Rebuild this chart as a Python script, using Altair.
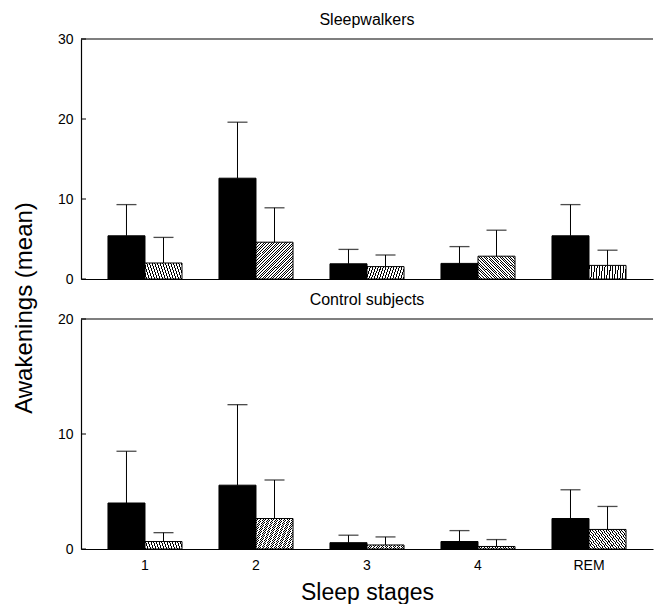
import altair as alt
import pandas as pd

# ---------------- data ----------------
stages = ["1", "2", "3", "4", "REM"]
series_names = ["black", "hatched"]

# Sleepwalkers
sw_black_mean = [5.4, 12.6, 1.9, 1.95, 5.4]
sw_black_sd = [3.9, 7.0, 1.8, 2.1, 3.9]
sw_hatched_mean = [2.0, 4.6, 1.55, 2.85, 1.7]
sw_hatched_sd = [3.2, 4.3, 1.45, 3.25, 1.9]

# Control subjects
ct_black_mean = [4.0, 5.55, 0.55, 0.65, 2.65]
ct_black_sd = [4.5, 7.0, 0.65, 0.95, 2.5]
ct_hatched_mean = [0.65, 2.65, 0.35, 0.22, 1.7]
ct_hatched_sd = [0.77, 3.35, 0.7, 0.6, 2.0]

sw_ticks = [0, 10, 20, 30]
ct_ticks = [0, 10, 20]

FONT = "Liberation Sans"
W = 572


def make_df(bm, bs, hm, hs):
    rows = []
    for i, s in enumerate(stages):
        rows.append({"stage": s, "series": "black", "mean": bm[i], "sd": bs[i]})
        rows.append({"stage": s, "series": "hatched", "mean": hm[i], "sd": hs[i]})
    return pd.DataFrame(rows)


# diagonal hatch approximated by a striped linear gradient
N = 28
stops = []
for k in range(N):
    s = k / N
    w = 0.38 / N
    stops += [
        alt.GradientStop(offset=s, color="white"),
        alt.GradientStop(offset=s, color="black"),
        alt.GradientStop(offset=s + w, color="black"),
        alt.GradientStop(offset=s + w, color="white"),
    ]
stops.append(alt.GradientStop(offset=1, color="white"))
hatch = alt.LinearGradient(gradient="linear", stops=stops, x1=0, y1=0, x2=1, y2=1)


def panel(df, ymax, ticks, height, title, bottom):
    base = alt.Chart(df).transform_calculate(upper="datum.mean + datum.sd")
    if bottom:
        xaxis = alt.Axis(title="Sleep stages", labelAngle=0, ticks=False, domain=True,
                         domainColor="black", domainWidth=1.2, labelPadding=9,
                         labelFontSize=14, titleFontSize=23, titleFontWeight="normal",
                         titlePadding=9, labelColor="black", titleColor="black")
    else:
        xaxis = alt.Axis(title=None, labels=False, ticks=False, domain=True,
                         domainColor="black", domainWidth=1.2)
    x = alt.X("stage:N", sort=stages,
              scale=alt.Scale(domain=stages, paddingInner=0.333, paddingOuter=0.243),
              axis=xaxis)
    xo = alt.XOffset("series:N", sort=series_names,
                     scale=alt.Scale(domain=series_names, paddingInner=0, paddingOuter=0))
    yscale = alt.Scale(domain=[0, ymax], nice=False, zero=True)
    y = alt.Y("mean:Q", scale=yscale,
              axis=alt.Axis(values=ticks, title=None, grid=False, ticks=False,
                            labelPadding=8, domainColor="black", domainWidth=1.2,
                            labelFontSize=14, labelColor="black"))

    black = base.transform_filter("datum.series == 'black'").mark_bar(
        fill="black", stroke="black", strokeWidth=1).encode(x=x, xOffset=xo, y=y)
    hatched = base.transform_filter("datum.series == 'hatched'").mark_bar(
        fill=hatch, stroke="black", strokeWidth=1).encode(x=x, xOffset=xo, y="mean:Q")
    err = base.mark_rule(color="black", strokeWidth=1).encode(
        x=x, xOffset=xo, y="mean:Q", y2="upper:Q")
    cap = base.mark_tick(color="black", orient="horizontal", size=20, thickness=1.3).encode(
        x=x, xOffset=xo, y="upper:Q")
    topline = alt.Chart(pd.DataFrame({"t": [ymax]})).mark_rule(
        color="black", strokeWidth=1.2).encode(y="t:Q", x=alt.value(0), x2=alt.value(W))
    inticks = alt.Chart(pd.DataFrame({"t": ticks})).mark_rule(
        color="black", strokeWidth=1).encode(y="t:Q", x=alt.value(0), x2=alt.value(5))

    return alt.layer(black, hatched, err, cap, topline, inticks).properties(
        width=W, height=height,
        title=alt.TitleParams(title, fontSize=16, fontWeight="normal", font=FONT,
                              color="black", offset=4),
    )


top = panel(make_df(sw_black_mean, sw_black_sd, sw_hatched_mean, sw_hatched_sd),
            30, sw_ticks, 240, "Sleepwalkers", False)
bottom = panel(make_df(ct_black_mean, ct_black_sd, ct_hatched_mean, ct_hatched_sd),
               20, ct_ticks, 230, "Control subjects", True)

chart = alt.vconcat(top, bottom, spacing=40, bounds="flush").properties(
    title=alt.TitleParams("Awakenings (mean)", orient="left", anchor="middle",
                          fontSize=24, fontWeight="normal", font=FONT, color="black",
                          offset=20),
    padding={"left": 5, "top": 4, "right": 0, "bottom": 0},
).configure_view(stroke=None).configure_axis(
    labelFont=FONT, titleFont=FONT
).configure_title(font=FONT)

chart.save("out.html", embed_options={"renderer": "svg", "actions": False})
